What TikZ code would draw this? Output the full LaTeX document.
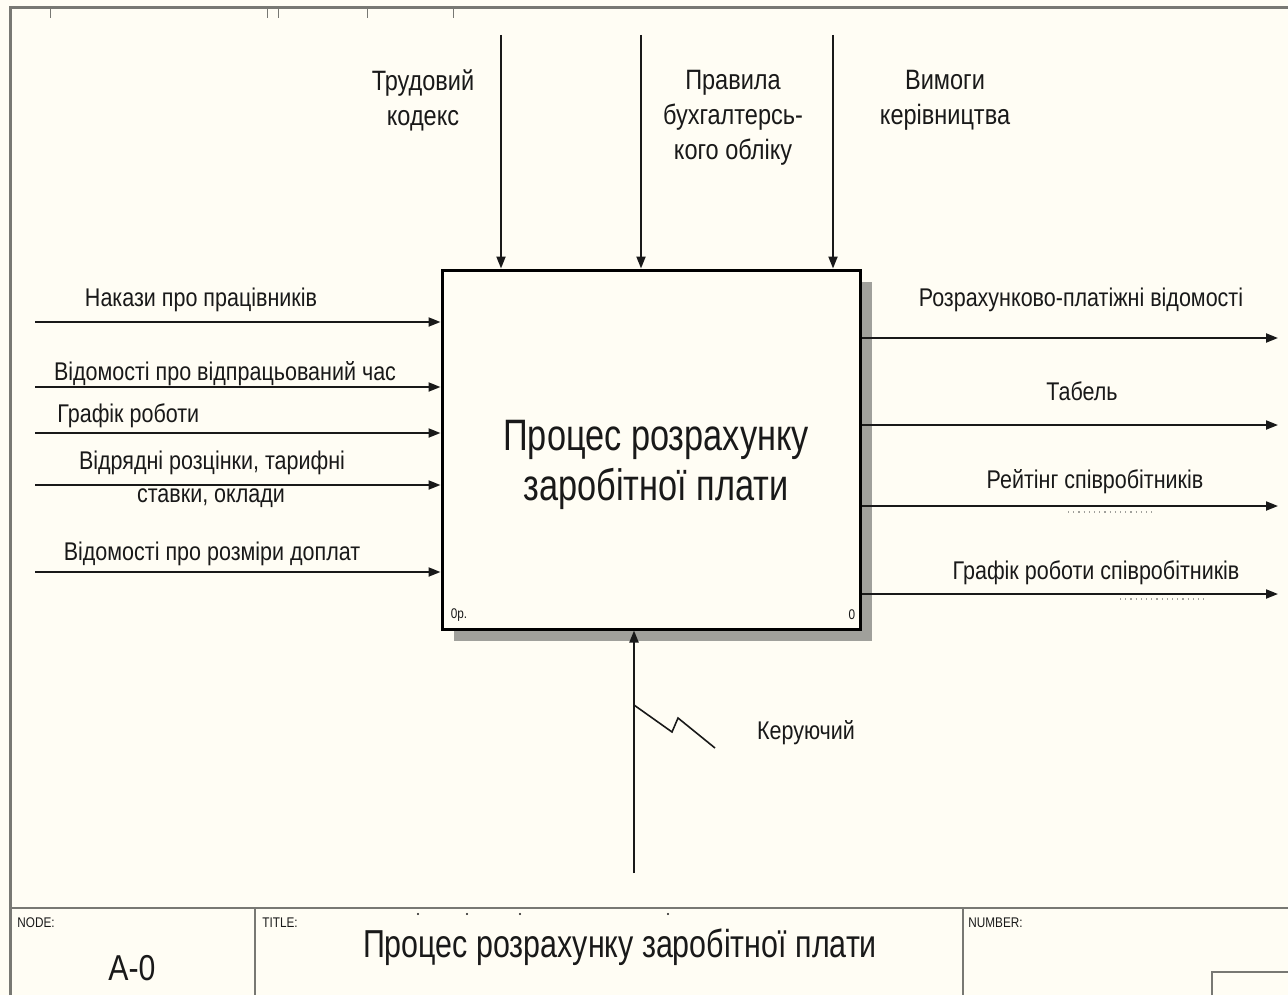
\documentclass[tikz,border=0pt]{standalone}
\usepackage{fontspec}
\setmainfont{Liberation Sans}
\newfontfamily\narrowfont[FakeStretch=0.84]{Liberation Sans}
\newfontfamily\titlefont[FakeStretch=0.78]{Liberation Sans}
\usetikzlibrary{arrows.meta, positioning}
\definecolor{paper}{RGB}{255,253,244}
\definecolor{ink}{RGB}{25,25,25}
\definecolor{frame}{RGB}{120,120,115}
\definecolor{shadowgray}{RGB}{160,160,155}

\begin{document}
\begin{tikzpicture}[x=0.5pt, y=-0.5pt,
  arr/.style={draw=ink, line width=1pt, -{Triangle[length=6pt, width=4.5pt]}},
  lbl/.style={font=\narrowfont\fontsize{12.8}{16}\selectfont, align=center, inner sep=0pt, text=ink},
  toplbl/.style={font=\narrowfont\fontsize{14}{17.5}\selectfont, align=center, inner sep=0pt, text=ink},
  tiny/.style={font=\narrowfont\fontsize{7}{8}\selectfont, inner sep=0pt, text=ink}]
% paper and frame
\fill[paper] (0,0) rectangle (1288,995);
\useasboundingbox (0,0) rectangle (1288,995);
\draw[frame, line width=1.5pt] (10,995) -- (10,8) -- (1288,8);
\foreach \tx in {50,267,278,367,453}
  \draw[frame, line width=0.5pt] (\tx,8) -- (\tx,18);

% the activity box
\fill[shadowgray] (454,282) rectangle (872,641);
\node[draw, fill=paper, line width=1.5pt, minimum width=209pt, minimum height=179.5pt] (proc) at (651,449.5) {};
\node[font=\titlefont\fontsize{22}{25}\selectfont, align=center, inner sep=0pt, text=ink] (proctext) at (656,465) {Процес розрахунку\\заробітної плати};
\node[tiny] (cost) at (459,615) {0р.};
\node[tiny] (num) at (852,615) {0};

% controls
\coordinate (c1) at (501,35);
\coordinate (c2) at (641,35);
\coordinate (c3) at (833,35);
\draw[arr] (c1) -- (proc.north -| c1);
\draw[arr] (c2) -- (proc.north -| c2);
\draw[arr] (c3) -- (proc.north -| c3);
\node[toplbl] (kodeks) at (423,100) {Трудовий\\кодекс};
\node[toplbl] (pravyla) at (733,118) {Правила\\бухгалтерсь-\\кого обліку};
\node[toplbl] (vymogy) at (945,100) {Вимоги\\керівництва};

% inputs
\coordinate (i1) at (35,322);
\coordinate (i2) at (35,387);
\coordinate (i3) at (35,433);
\coordinate (i4) at (35,485);
\coordinate (i5) at (35,572);
\draw[arr] (i1) -- (proc.west |- i1);
\draw[arr] (i2) -- (proc.west |- i2);
\draw[arr] (i3) -- (proc.west |- i3);
\draw[arr] (i4) -- (proc.west |- i4);
\draw[arr] (i5) -- (proc.west |- i5);
\node[lbl] (nakazy) at (201,300) {Накази про працівників};
\node[lbl] (chas) at (225,374) {Відомості про відпрацьований час};
\node[lbl, anchor=west] (grafik) at (57,416) {Графік роботи};
\node[lbl] (rozcinky) at (212,463) {Відрядні розцінки, тарифні};
\node[lbl] (stavky) at (211,498) {ставки, оклади};
\node[lbl] (doplaty) at (212,554) {Відомості про розміри доплат};

% outputs
\coordinate (o1) at (1278,338);
\coordinate (o2) at (1278,425);
\coordinate (o3) at (1278,506);
\coordinate (o4) at (1278,594);
\draw[arr] (proc.east |- o1) -- (o1);
\draw[arr] (proc.east |- o2) -- (o2);
\draw[arr] (proc.east |- o3) -- (o3);
\draw[arr] (proc.east |- o4) -- (o4);
\node[lbl] (vidomosti) at (1081,300) {Розрахунково-платіжні відомості};
\node[lbl] (tabel) at (1082,391) {Табель};
\node[lbl] (reiting) at (1095,482) {Рейтінг співробітників};
\node[lbl] (grafiksp) at (1096,573) {Графік роботи співробітників};
\draw[shadowgray, dotted, line width=0.6pt] (1068,512) -- (1152,512);
\draw[shadowgray, dotted, line width=0.6pt] (1120,599) -- (1205,599);

% mechanism
\coordinate (m) at (634,873);
\coordinate (zz) at (634,705);
\draw[arr] (m) -- (proc.south -| m);
\draw[ink, line width=0.8pt] (zz) -- (672,732) -- (678,718) -- (715,748);
\node[lbl] (keruyuchyi) at (806,733) {Керуючий};

% title block
\draw[frame, line width=1.2pt] (10,908) -- (1288,908);
\draw[frame, line width=0.8pt] (255,908) -- (255,995);
\draw[frame, line width=0.8pt] (963,908) -- (963,995);
\draw[frame, line width=0.8pt] (1212,995) -- (1212,972) -- (1288,972);
\foreach \tx in {418,467,520,668}
  \fill[ink] (\tx,914) circle (0.6pt);
\node[tiny, anchor=west] (nodelbl) at (17,923) {NODE:};
\node[tiny, anchor=west] (titlelbl) at (262,923) {TITLE:};
\node[tiny, anchor=west] (numberlbl) at (968,923) {NUMBER:};
\node[font=\narrowfont\fontsize{18}{20}\selectfont, inner sep=0pt, text=ink] (nodeid) at (132,968) {A-0};
\node[font=\titlefont\fontsize{19.5}{22}\selectfont, inner sep=0pt, text=ink] (title) at (620,947) {Процес розрахунку заробітної плати};
\end{tikzpicture}
\end{document}
